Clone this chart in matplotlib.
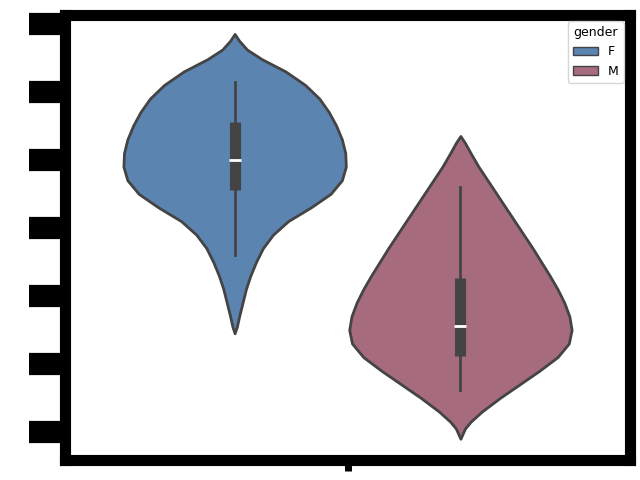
import matplotlib.pyplot as plt
from matplotlib.patches import Patch

genders = ["F", "M"]
colors = ["#5b84b1", "#a66b7d"]
positions = [-0.2, 0.2]

# violin outline: levels (y) and half-widths (x units)
f_levels = [5.85, 5.75, 5.62, 5.48, 5.30, 5.10, 4.90, 4.70, 4.50, 4.30, 4.10, 3.90, 3.70,
            3.50, 3.30, 3.10, 2.90, 2.70, 2.50, 2.30, 2.10, 1.90, 1.70, 1.55, 1.45]
f_widths = [0.000, 0.008, 0.022, 0.048, 0.090, 0.125, 0.150, 0.167, 0.180, 0.190, 0.196,
            0.197, 0.190, 0.170, 0.135, 0.095, 0.068, 0.050, 0.038, 0.028, 0.020, 0.014,
            0.008, 0.004, 0.000]
m_levels = [4.35, 4.25, 4.10, 3.90, 3.70, 3.50, 3.30, 3.10, 2.90, 2.70, 2.50, 2.30, 2.10,
            1.90, 1.70, 1.50, 1.30, 1.10, 0.90, 0.70, 0.50, 0.30, 0.15, 0.05, -0.10]
m_widths = [0.000, 0.008, 0.018, 0.032, 0.048, 0.064, 0.080, 0.096, 0.112, 0.128, 0.143,
            0.158, 0.172, 0.184, 0.193, 0.197, 0.192, 0.172, 0.140, 0.105, 0.070, 0.038,
            0.018, 0.008, 0.000]

# box stats: whisker low, q1, median, q3, whisker high
f_box = [2.60, 3.55, 4.00, 4.55, 5.15]
m_box = [0.62, 1.12, 1.55, 2.27, 3.60]

fig = plt.figure(figsize=(6.4, 4.8), dpi=100)
ax = fig.add_axes([0.102, 0.042, 0.882, 0.927])

for pos, lev, wid, box, c in zip(positions, [f_levels, m_levels], [f_widths, m_widths],
                                 [f_box, m_box], colors):
    ax.fill_betweenx(lev, [pos - w for w in wid], [pos + w for w in wid],
                     facecolor=c, edgecolor="#444444", linewidth=2, zorder=2)
    ax.plot([pos, pos], [box[0], box[4]], color="#444444", lw=2, zorder=3)
    ax.plot([pos, pos], [box[1], box[3]], color="#444444", lw=8, solid_capstyle="butt", zorder=3)
    ax.plot([pos], [box[2]], marker="_", color="white", ms=8, mew=2, zorder=4)

ax.set_xlim(-0.5, 0.5)
ax.set_ylim(-0.41, 6.13)
ax.set_xticks([0])
ax.set_xticklabels([""])
ax.set_yticks(range(7))
ax.set_yticklabels([""] * 7)
for s in ax.spines.values():
    s.set_linewidth(8)
ax.tick_params(axis="y", length=26, width=16, direction="out")
ax.tick_params(axis="x", length=8, width=5)

handles = [Patch(facecolor=c, edgecolor="#444444", label=g) for g, c in zip(genders, colors)]
ax.legend(handles=handles, title="gender", loc="upper right", fontsize=9, title_fontsize=9)

fig.savefig("out.png", dpi=100)
